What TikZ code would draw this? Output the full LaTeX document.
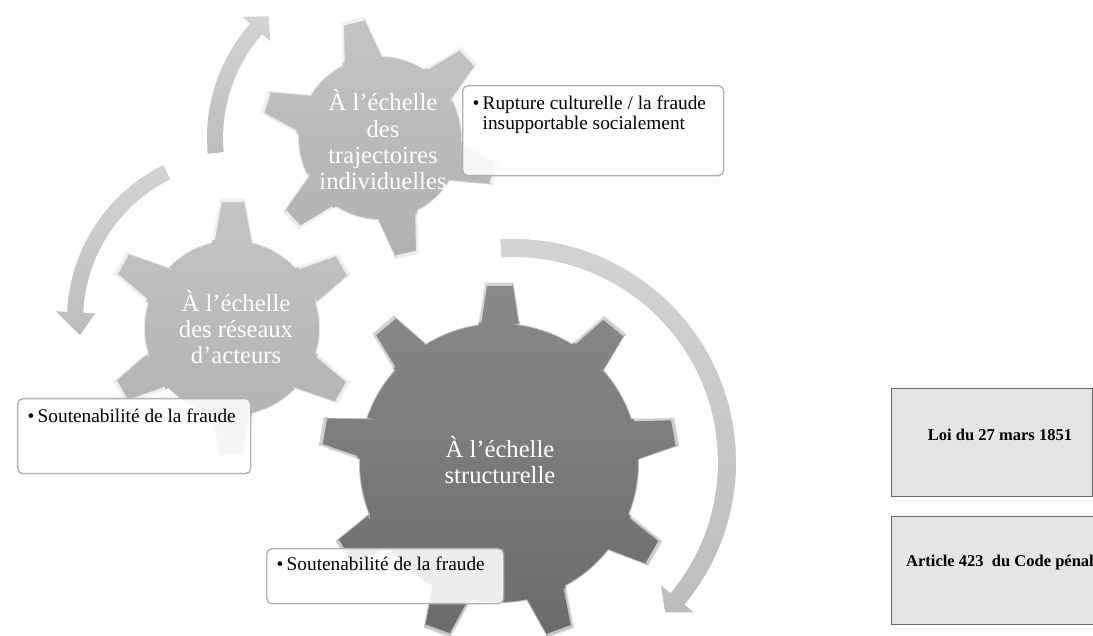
\documentclass[tikz,border=0pt]{standalone}
\usepackage{fontspec}
\setmainfont{Liberation Serif}
\usepackage{tikz}
\usetikzlibrary{positioning}
\tikzstyle{smallgear}=[top color=black!23,bottom color=black!31,draw=white,draw opacity=0.6,line width=0.5pt]
\tikzstyle{biggear}=[top color=black!46,bottom color=black!58,draw=white,draw opacity=0.5,line width=0.5pt]
\tikzstyle{bevel}=[draw=white,draw opacity=0.75,line width=0.9pt,line join=round]
\tikzstyle{turn}=[top color=black!17,bottom color=black!26,draw=white,line width=0.5pt]
\tikzstyle{geartext}=[text=white,align=center,inner sep=0pt,font=\fontsize{7}{7.5}\selectfont]
\tikzstyle{notebox}=[draw=black!30,fill=white,fill opacity=0.88,rounded corners=1.5pt,inner sep=0pt]
\tikzstyle{notetext}=[inner sep=0pt,font=\fontsize{5.5}{5.7}\selectfont]
\tikzstyle{lawbox}=[draw=black!60,fill=black!10,line width=0.4pt,inner sep=0pt]
\tikzstyle{lawtext}=[inner sep=0pt,font=\bfseries\fontsize{4.7}{5}\selectfont]

\begin{document}
\begin{tikzpicture}
\useasboundingbox (0,0) rectangle (10.93,6.36);

% turning arrows
\begin{scope}[shift={(3.80,4.98)}]
\path[turn] (185.5:1.74) arc[start angle=185.5,end angle=139,radius=1.74] -- (139:1.86) -- (132:1.65) -- (139:1.44) -- (139:1.56) arc[start angle=139,end angle=185.5,radius=1.56] -- cycle;
\end{scope}
\begin{scope}[shift={(2.40,3.16)}]
\path[turn] (116:1.74) arc[start angle=116,end angle=177,radius=1.74] -- (177:1.87) -- (186:1.61) -- (177:1.43) -- (177:1.56) arc[start angle=177,end angle=116,radius=1.56] -- cycle;
\end{scope}
\begin{scope}[shift={(5.13,1.74)}]
\path[turn] (93.5:2.24) arc[start angle=93.5,end angle=-39.5,radius=2.24] -- (-39.5:2.38) -- (-45:2.14) -- (-39.5:1.90) -- (-39.5:2.04) arc[start angle=-39.5,end angle=93.5,radius=2.04] -- cycle;
\end{scope}

% gears
\begin{scope}[shift={(2.32,3.08)}]
\path[smallgear] ({30-13.7}:0.88)
  foreach \a in {30,90,150,210,270,330}{ -- ({\a-13.7}:0.88) -- ({\a-5.5}:1.30) -- ({\a+5.5}:1.30) -- ({\a+13.7}:0.88) arc[start angle=\a+13.7,end angle=\a+46.3,radius=0.88]} -- cycle;
\foreach \a in {30,90,150,210,270,330}
  \draw[bevel] ({\a+12}:0.90) -- ({\a+5.2}:1.28) -- ({\a-5.2}:1.28);
\end{scope}
\begin{scope}[shift={(3.80,4.98)}]
\path[smallgear] ({43-14.7}:0.82)
  foreach \a in {43,103,163,223,283,343}{ -- ({\a-14.7}:0.82) -- ({\a-5.6}:1.22) -- ({\a+5.6}:1.22) -- ({\a+14.7}:0.82) arc[start angle=\a+14.7,end angle=\a+45.3,radius=0.82]} -- cycle;
\foreach \a in {43,103,163,223,283,343}
  \draw[bevel] ({\a+13}:0.84) -- ({\a+5.3}:1.20) -- ({\a-5.3}:1.20);
\end{scope}
\begin{scope}[shift={(4.99,1.73)}]
\path[biggear] ({90-8.6}:1.40)
  foreach \a in {90,130,...,410}{ -- ({\a-8.6}:1.40) -- ({\a-4.5}:1.81) -- ({\a+4.5}:1.81) -- ({\a+8.6}:1.40) arc[start angle=\a+8.6,end angle=\a+31.4,radius=1.40]} -- cycle;
\foreach \a in {90,130,...,410}
  \draw[bevel,draw opacity=0.6] ({\a+7.8}:1.42) -- ({\a+4.3}:1.79) -- ({\a-4.3}:1.79);
\end{scope}

\node[geartext] (trajectoires) at (3.83,4.96) {À l’échelle\\des\\trajectoires\\individuelles};
\node[geartext] (reseaux) at (2.36,3.09) {À l’échelle\\des réseaux\\d’acteurs};
\node[geartext] (structure) at (5.00,1.76) {À l’échelle\\structurelle};

% notes
\node[notebox,minimum width=2.61cm,minimum height=0.90cm,anchor=north west] (rupture) at (4.62,5.51) {};
\node[notetext,below right=0.10cm and 0.10cm of rupture.north west] (rupturetext) {\begin{tabular}{@{}l@{\,}l@{}}\textbullet&Rupture culturelle / la fraude\\&insupportable socialement\end{tabular}};
\node[notebox,minimum width=2.33cm,minimum height=0.75cm,anchor=north west] (soutenA) at (0.17,2.38) {};
\node[notetext,below right=0.10cm and 0.10cm of soutenA.north west] (soutenAtext) {\begin{tabular}{@{}l@{\,}l@{}}\textbullet&Soutenabilité de la fraude\end{tabular}};
\node[notebox,minimum width=2.37cm,minimum height=0.55cm,anchor=north west] (soutenB) at (2.66,0.88) {};
\node[notetext,below right=0.08cm and 0.10cm of soutenB.north west] (soutenBtext) {\begin{tabular}{@{}l@{\,}l@{}}\textbullet&Soutenabilité de la fraude\end{tabular}};

% law boxes
\node[lawbox,minimum width=2.01cm,minimum height=1.08cm,anchor=south west] (loi) at (8.91,1.39) {};
\node[lawtext] (loitext) at (10.00,2.01) {Loi du 27 mars 1851};
\node[lawbox,minimum width=2.10cm,minimum height=1.08cm,anchor=south west] (article) at (8.91,0.11) {};
\node[lawtext] (articletext) at (10.00,0.73) {Article 423\ \ du Code pénal};
\end{tikzpicture}
\end{document}
